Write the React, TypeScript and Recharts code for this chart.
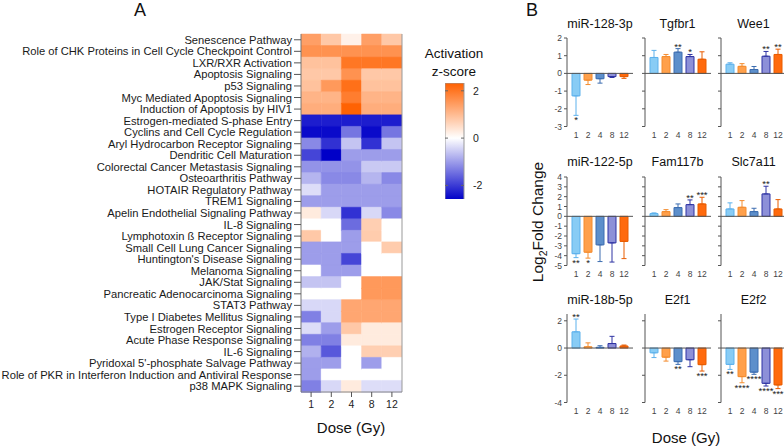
import React from 'react';
import {
  BarChart,
  Bar,
  XAxis,
  YAxis,
  Cell,
  ReferenceLine,
  ComposedChart,
  ErrorBar,
  Scatter,
} from 'recharts';

const FONT = '"Liberation Sans", Arial, Helvetica, sans-serif';

// ---------------- Panel A data ----------------
const pathways = [
  'Senescence Pathway',
  'Role of CHK Proteins in Cell Cycle Checkpoint Control',
  'LXR/RXR Activation',
  'Apoptosis Signaling',
  'p53 Signaling',
  'Myc Mediated Apoptosis Signaling',
  'Induction of Apoptosis by HIV1',
  'Estrogen-mediated S-phase Entry',
  'Cyclins and Cell Cycle Regulation',
  'Aryl Hydrocarbon Receptor Signaling',
  'Dendritic Cell Maturation',
  'Colorectal Cancer Metastasis Signaling',
  'Osteoarthritis Pathway',
  'HOTAIR Regulatory Pathway',
  'TREM1 Signaling',
  'Apelin Endothelial Signaling Pathway',
  'IL-8 Signaling',
  'Lymphotoxin ß Receptor Signaling',
  'Small Cell Lung Cancer Signaling',
  "Huntington's Disease Signaling",
  'Melanoma Signaling',
  'JAK/Stat Signaling',
  'Pancreatic Adenocarcinoma Signaling',
  'STAT3 Pathway',
  'Type I Diabetes Mellitus Signaling',
  'Estrogen Receptor Signaling',
  'Acute Phase Response Signaling',
  'IL-6 Signaling',
  "Pyridoxal 5'-phosphate Salvage Pathway",
  'Role of PKR in Interferon Induction and Antiviral Response',
  'p38 MAPK Signaling',
];

const doseLabels = ['1', '2', '4', '8', '12'];

const z1 = [1.4, 1.6, 0.9, 0.8, 0.9, 1.1, 1.2, -2.3, -2.5, -1.2, -1.9, -1.1, -0.75, -0.35, -1.0, 0.3, 0, 0.8, -1.0, -1.0, 0, -0.6, 0, -0.4, -1.3, -0.35, -1.3, -0.8, -1.0, -1.0, -1.3];
const z2 = [0.8, 1.6, 0.9, 0.8, 1.5, 1.1, 1.2, -2.3, -2.5, -2.1, -2.6, -1.1, -1.2, -1.0, -1.0, -0.4, 0, 0, -1.0, -1.0, -1.0, -0.6, 0, -0.4, -0.4, -1.0, -1.3, -1.7, -1.0, 0, -0.4];
const z4 = [0.2, 1.6, 2.0, 1.6, 2.1, 1.9, 2.3, -2.3, -1.4, -0.6, -1.0, -1.1, -1.2, -1.0, -1.0, -2.1, -1.5, -1.0, -1.0, -1.9, -1.0, 0, 0, 1.3, 1.3, 0.8, 0.3, 0, 0, 0, 0.3];
const z8 = [1.4, 1.6, 2.0, 0.8, 0.9, 1.1, 1.2, -2.3, -2.5, -2.1, -1.0, -0.55, -0.75, -1.0, -1.0, -0.4, 0.7, 0.75, 0, 0, 0, 1.5, 1.5, 1.3, 1.3, 0.3, 0.3, 0.7, -1.0, 0, -0.35];
const z12 = [0.8, 1.6, 2.0, 0.8, 0.9, 1.1, 1.2, -2.3, -1.4, -0.6, -1.0, -0.55, -1.2, -1.0, -1.0, -1.2, 0, 0, 0.75, 0, 0, 1.5, 1.5, 1.3, 1.3, 0.3, 0.3, 0.7, 0, 0, -0.35];

const zMax = 2.33;
const zMin = -2.6;
const colorTicks = [-2, 0, 2];

// ---------------- Panel B data ----------------
const mir128Vals = [-1.27, -0.38, -0.3, -0.18, -0.18];
const mir128Err = [1.1, 0.25, 0.25, 0.05, 0.1];
const mir128Sig = ['*', '', '', '', ''];

const tgfbr1Vals = [0.9, 0.95, 1.2, 0.95, 0.8];
const tgfbr1Err = [0.4, 0.12, 0.2, 0.12, 0.42];
const tgfbr1Sig = ['', '', '**', '*', ''];

const wee1Vals = [0.52, 0.4, 0.22, 0.97, 1.07];
const wee1Err = [0.08, 0.15, 0.17, 0.27, 0.3];
const wee1Sig = ['', '', '', '**', '**'];

const mir122Vals = [-3.8, -3.65, -2.9, -2.7, -2.55];
const mir122Err = [0.4, 0.6, 1.7, 1.95, 1.75];
const mir122Sig = ['**', '*', '', '', ''];

const fam117bVals = [0.28, 0.48, 0.89, 1.19, 1.26];
const fam117bErr = [0.07, 0.2, 0.37, 0.48, 0.68];
const fam117bSig = ['', '', '', '**', '***'];

const slc7a11Vals = [0.75, 0.92, 0.48, 2.28, 0.75];
const slc7a11Err = [0.62, 0.68, 0.34, 0.78, 0.95];
const slc7a11Sig = ['', '', '', '**', ''];

const mir18bVals = [1.19, 0.09, 0.05, 0.33, 0.15];
const mir18bErr = [0.94, 0.29, 0.12, 0.53, 0.07];
const mir18bSig = ['**', '', '', '', ''];

const e2f1Vals = [-0.35, -0.67, -1.0, -0.86, -1.22];
const e2f1Err = [0.35, 0.29, 0.2, 0.51, 0.47];
const e2f1Sig = ['', '', '**', '', '***'];

const e2f2Vals = [-1.2, -2.1, -1.77, -2.59, -2.71];
const e2f2Err = [0.37, 0.45, 0.16, 0.2, 0.27];
const e2f2Sig = ['**', '****', '****', '****', '***'];

const row1Ticks = [-3, -2, -1, 0, 1, 2];
const row2Ticks = [-5, -4, -3, -2, -1, 0, 1, 2, 3, 4];
const row3Ticks = [-4, -2, 0, 2];

// ---------------- styling ----------------
const barFills = ['#88CCF5', '#FFA04B', '#5D8FCB', '#8D90D8', '#FF6A0D'];
const barStrokes = ['#5DB1EC', '#F48C2E', '#3C6DB0', '#2E33A3', '#E85C00'];

function heatColor(z: number): string {
  if (z >= 0) {
    const t = Math.min(z / zMax, 1);
    return `rgb(255,${Math.round(255 - 159 * t)},${Math.round(255 - 255 * t)})`;
  }
  const t = Math.min(-z / -zMin, 1);
  return `rgb(${Math.round(255 * (1 - t))},${Math.round(255 * (1 - t))},${Math.round(255 - 55 * t)})`;
}

const zCols = [z1, z2, z4, z8, z12];
const heatRows = pathways.map((name) => ({ name, c0: 1, c1: 1, c2: 1, c3: 1, c4: 1 }));
const cbData = [{ name: 'z', range: [zMin, zMax] }];

function Txt({ x, y, size, children, weight, rotate }: any) {
  return (
    <div
      style={{
        position: 'absolute',
        left: x,
        top: y,
        transform: `translate(-50%,-50%)${rotate ? ' rotate(-90deg)' : ''}`,
        fontSize: size,
        lineHeight: 1,
        whiteSpace: 'nowrap',
        color: '#111',
        fontWeight: weight || 'normal',
      }}
    >
      {children}
    </div>
  );
}

const PathwayTick = (props: any) => {
  const { x, y, payload } = props;
  return (
    <text x={x} y={y} dy="0.36em" textAnchor="end" fontSize={11.2} fill="#1a1a1a" fontFamily={FONT}>
      {payload.value}
    </text>
  );
};

const renderStar = (props: any) => {
  const { cx, cy, payload } = props;
  if (!payload || !payload.sig || cx == null || cy == null || isNaN(cy)) return <g />;
  const up = payload.v >= 0;
  return (
    <text x={cx} y={up ? cy + 1 : cy + 8} textAnchor="middle" fontSize={9.5} fill="#222" fontFamily={FONT}>
      {payload.sig}
    </text>
  );
};

function GeneChart({ title, values, errors, sigs, domain, ticks, axisX, plotTop, showLabels }: any) {
  const data = doseLabels.map((d, i) => {
    const row: any = {
      dose: d,
      v: values[i],
      sig: sigs[i],
      sp: sigs[i] ? values[i] + (values[i] >= 0 ? errors[i] : -errors[i]) : null,
    };
    for (let k = 0; k < 5; k++) {
      row['e' + k] = k === i ? (values[i] >= 0 ? [0, errors[i]] : [errors[i], 0]) : null;
    }
    return row;
  });
  const plotH = 88.5;
  const mTop = 6;
  return (
    <>
      <Txt x={axisX + 33} y={plotTop - 14.5} size={12.5}>
        {title}
      </Txt>
      <div style={{ position: 'absolute', left: axisX - 30, top: plotTop - mTop }}>
        <ComposedChart
          width={98}
          height={mTop + plotH + 17}
          data={data}
          margin={{ top: mTop, right: 2, bottom: 0, left: 0 }}
        >
          <XAxis
            dataKey="dose"
            height={17}
            axisLine={false}
            tickLine={false}
            tickSize={2}
            tickMargin={3}
            interval={0}
            padding={{ left: 3, right: 3 }}
            tick={{ fontSize: 8.5, fill: '#444', fontFamily: FONT }}
          />
          <YAxis
            width={30}
            domain={domain}
            ticks={ticks}
            allowDataOverflow
            interval={0}
            axisLine={{ stroke: '#555' }}
            tickLine={{ stroke: '#555' }}
            tickSize={3}
            tickMargin={2}
            tick={{ fontSize: 8.5, fill: '#444', fontFamily: FONT }}
            tickFormatter={(v: any) => (showLabels ? String(v) : '')}
          />
          <ReferenceLine y={0} stroke="#555" strokeWidth={1} />
          <Bar dataKey="v" barSize={8} strokeWidth={1} isAnimationActive={false}>
            {data.map((_, i) => (
              <Cell key={i} fill={barFills[i]} stroke={barStrokes[i]} />
            ))}
            {[0, 1, 2, 3, 4].map((k) => (
              <ErrorBar
                key={k}
                dataKey={'e' + k}
                width={2.5}
                strokeWidth={1}
                stroke={barStrokes[k]}
                direction="y"
                isAnimationActive={false}
              />
            ))}
          </Bar>
          <Scatter dataKey="sp" shape={renderStar} isAnimationActive={false} />
        </ComposedChart>
      </div>
    </>
  );
}

const colX = [567, 644.5, 720.5];
const rowTop = [38.3, 176.7, 314.3];

export default function App() {
  return (
    <div
      style={{
        position: 'absolute',
        left: 0,
        top: 0,
        width: 784,
        height: 446,
        overflow: 'hidden',
        background: '#fff',
        fontFamily: FONT,
      }}
    >
      {/* Panel A */}
      <Txt x={140} y={10} size={18}>A</Txt>
      <div style={{ position: 'absolute', left: 0, top: 0 }}>
        <BarChart
          width={420}
          height={446}
          data={heatRows}
          layout="vertical"
          margin={{ top: 34, right: 18, bottom: 0, left: 0 }}
          barCategoryGap={0}
          barGap={0}
        >
          <XAxis
            type="number"
            domain={[0, 5]}
            ticks={[0.5, 1.5, 2.5, 3.5, 4.5]}
            tickFormatter={(v: number) => doseLabels[Math.floor(v)]}
            height={54}
            allowDataOverflow
            axisLine={{ stroke: '#888' }}
            tickLine={{ stroke: '#555' }}
            tickSize={5}
            tickMargin={4}
            tick={{ fontSize: 10.5, fill: '#222', fontFamily: FONT }}
          />
          <YAxis
            type="category"
            dataKey="name"
            width={301}
            interval={0}
            axisLine={{ stroke: '#777' }}
            tickLine={{ stroke: '#555' }}
            tickSize={7}
            tickMargin={2}
            tick={<PathwayTick />}
          />
          {zCols.map((col, j) => (
            <Bar key={j} dataKey={'c' + j} stackId="h" isAnimationActive={false}>
              {col.map((z, i) => (
                <Cell key={i} fill={heatColor(z)} stroke={heatColor(z)} strokeWidth={0.5} />
              ))}
            </Bar>
          ))}
          <ReferenceLine x={5} stroke="#999" />
        </BarChart>
      </div>
      <Txt x={351} y={427} size={15}>Dose (Gy)</Txt>

      {/* Color bar */}
      <Txt x={454} y={54} size={13.5}>Activation</Txt>
      <Txt x={454} y={72} size={13.5}>z-score</Txt>
      <div style={{ position: 'absolute', left: 445, top: 82.7 }}>
        <BarChart width={60} height={116.6} data={cbData} margin={{ top: 0, right: 0, bottom: 0, left: 0 }} barCategoryGap={0}>
          <defs>
            <linearGradient id="cbGrad" x1="0" y1="0" x2="0" y2="1">
              <stop offset="0" stopColor={heatColor(zMax)} />
              <stop offset={String(zMax / (zMax - zMin))} stopColor="#ffffff" />
              <stop offset="1" stopColor={heatColor(zMin)} />
            </linearGradient>
          </defs>
          <XAxis dataKey="name" hide />
          <YAxis
            orientation="right"
            width={41}
            domain={[zMin, zMax]}
            ticks={colorTicks}
            allowDataOverflow
            axisLine={false}
            tickLine={false}
            tickSize={0}
            tickMargin={9}
            tick={{ fontSize: 10.5, fill: '#222', fontFamily: FONT }}
          />
          <Bar dataKey="range" fill="url(#cbGrad)" stroke="#999" isAnimationActive={false} />
          {colorTicks.map((t) => (
            <ReferenceLine key={t} y={t} stroke="#666" strokeDasharray="3 13" />
          ))}
        </BarChart>
      </div>

      {/* Panel B */}
      <Txt x={532} y={10} size={18}>B</Txt>
      <Txt x={539} y={222} size={15.5} rotate>
        <span>Log</span>
        <sub style={{ fontSize: 10.5 }}>2</sub>
        <span>Fold Change</span>
      </Txt>

      <GeneChart title="miR-128-3p" values={mir128Vals} errors={mir128Err} sigs={mir128Sig} domain={[-3, 2]} ticks={row1Ticks} axisX={colX[0]} plotTop={rowTop[0]} showLabels />
      <GeneChart title="Tgfbr1" values={tgfbr1Vals} errors={tgfbr1Err} sigs={tgfbr1Sig} domain={[-3, 2]} ticks={row1Ticks} axisX={colX[1]} plotTop={rowTop[0]} />
      <GeneChart title="Wee1" values={wee1Vals} errors={wee1Err} sigs={wee1Sig} domain={[-3, 2]} ticks={row1Ticks} axisX={colX[2]} plotTop={rowTop[0]} />

      <GeneChart title="miR-122-5p" values={mir122Vals} errors={mir122Err} sigs={mir122Sig} domain={[-5, 4]} ticks={row2Ticks} axisX={colX[0]} plotTop={rowTop[1]} showLabels />
      <GeneChart title="Fam117b" values={fam117bVals} errors={fam117bErr} sigs={fam117bSig} domain={[-5, 4]} ticks={row2Ticks} axisX={colX[1]} plotTop={rowTop[1]} />
      <GeneChart title="Slc7a11" values={slc7a11Vals} errors={slc7a11Err} sigs={slc7a11Sig} domain={[-5, 4]} ticks={row2Ticks} axisX={colX[2]} plotTop={rowTop[1]} />

      <GeneChart title="miR-18b-5p" values={mir18bVals} errors={mir18bErr} sigs={mir18bSig} domain={[-4, 2.5]} ticks={row3Ticks} axisX={colX[0]} plotTop={rowTop[2]} showLabels />
      <GeneChart title="E2f1" values={e2f1Vals} errors={e2f1Err} sigs={e2f1Sig} domain={[-4, 2.5]} ticks={row3Ticks} axisX={colX[1]} plotTop={rowTop[2]} />
      <GeneChart title="E2f2" values={e2f2Vals} errors={e2f2Err} sigs={e2f2Sig} domain={[-4, 2.5]} ticks={row3Ticks} axisX={colX[2]} plotTop={rowTop[2]} />

      <Txt x={686} y={437} size={15}>Dose (Gy)</Txt>
    </div>
  );
}
